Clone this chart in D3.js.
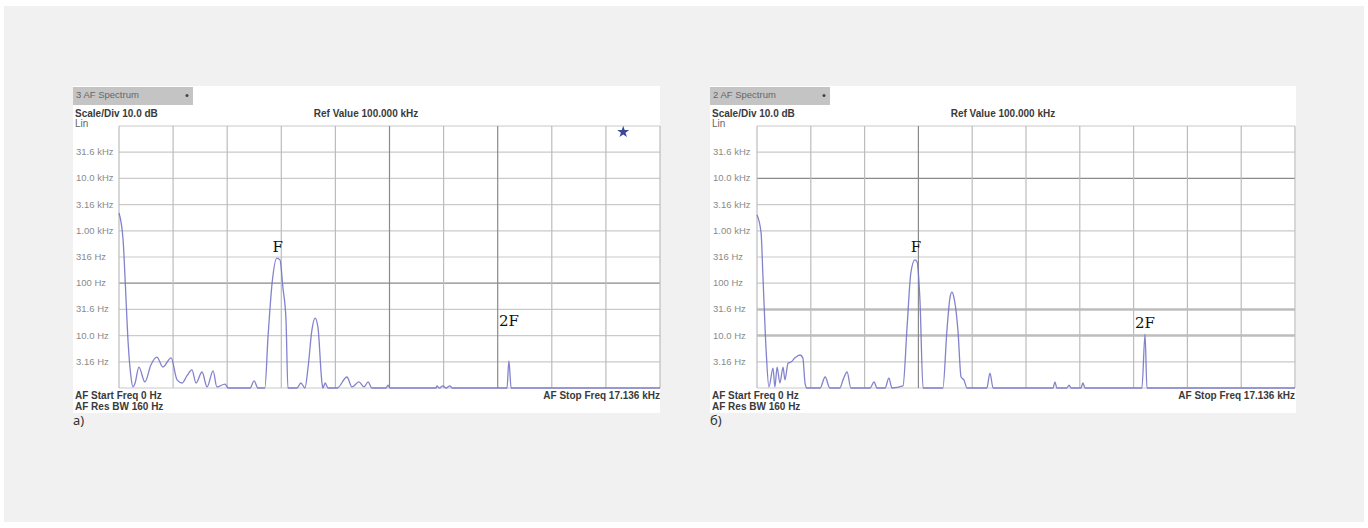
<!DOCTYPE html>
<html>
<head>
<meta charset="utf-8">
<script src="https://cdn.jsdelivr.net/npm/d3@7"></script>
<style>
  html, body { margin: 0; padding: 0; background: #fff; }
  svg { display: block; }
  .hdr { font-family: "Liberation Sans", Arial, sans-serif; font-size: 10px; font-weight: bold; fill: #3a3a3a; }
  .tick { font-family: "Liberation Sans", Arial, sans-serif; font-size: 9.5px; fill: #8a8a8a; }
  .mark { font-family: "DejaVu Serif", "Liberation Serif", serif; font-size: 15px; fill: #111; }
  .cap { font-family: "Noto Sans", "Open Sans", sans-serif; font-size: 13px; fill: #333; }
</style>
</head>
<body>
<div id="chart"></div>
<script>

// frequency span of both analyzers, kHz
const spanKHz = 17.136

// level axis, dB re 1 Hz, 10 dB / div
const levelDomain = [0, 100]
const tickLevels = [90, 80, 70, 60, 50, 40, 30, 20, 10]
const tickLabels = ["31.6 kHz", "10.0 kHz", "3.16 kHz", "1.00 kHz", "316 Hz", "100 Hz", "31.6 Hz", "10.0 Hz", "3.16 Hz"]

// trace a) [kHz, dB]
const traceA = [
  [0, 66.8], [0.13, 56.5], [0.19, 42.4], [0.29, 17.2], [0.38, 4.2], [0.44, 0.4],
  [0.51, 1.9], [0.63, 8.0], [0.82, 2.3], [1.01, 8.8], [1.20, 11.8], [1.39, 8.0],
  [1.65, 11.5], [1.84, 3.1], [2.00, 1.9], [2.15, 4.6], [2.31, 6.9], [2.44, 1.9],
  [2.63, 6.1], [2.79, 0.4], [2.98, 6.5], [3.10, 0.4], [3.36, 1.5], [3.45, 0],
  [4.15, 0], [4.28, 2.7], [4.40, 0], [4.62, 0], [4.72, 19.5], [4.85, 40.1],
  [5.00, 49.6], [5.10, 48.9], [5.19, 38.5], [5.29, 26.0], [5.35, 0], [5.64, 0],
  [5.76, 1.9], [5.89, 0], [5.99, 8.0], [6.11, 22.1], [6.21, 26.7], [6.30, 23.3],
  [6.43, 1.9], [6.46, 0], [6.53, 1.9], [6.62, 0], [6.91, 0], [7.22, 4.2],
  [7.38, 0.4], [7.60, 2.3], [7.76, 0.4], [7.89, 2.3], [8.01, 0], [8.46, 0],
  [8.52, 1.1], [8.58, 0], [10.04, 0], [10.07, 0.8], [10.14, 0], [10.26, 0.8],
  [10.36, 0], [10.48, 0.8], [10.55, 0], [12.29, 0], [12.35, 10.3], [12.42, 0],
  [17.136, 0]
]

// trace б) [kHz, dB]
const traceB = [
  [0, 66.0], [0.13, 59.2], [0.19, 42.4], [0.29, 14.5], [0.38, 0.4], [0.51, 7.6],
  [0.57, 0.4], [0.64, 8.0], [0.73, 1.9], [0.83, 8.0], [0.89, 3.1], [0.99, 9.5],
  [1.08, 9.9], [1.21, 11.5], [1.37, 12.6], [1.46, 11.5], [1.53, 1.9], [1.59, 0],
  [2.01, 0], [2.17, 4.2], [2.32, 0], [2.64, 0], [2.74, 3.1], [2.87, 6.1],
  [2.99, 0], [3.60, 0], [3.73, 2.3], [3.82, 0], [4.08, 0], [4.20, 3.8],
  [4.30, 0], [4.65, 0.8], [4.78, 23.3], [4.90, 43.9], [5.03, 48.9], [5.10, 48.1],
  [5.19, 33.6], [5.29, 0], [5.92, 0], [6.05, 22.1], [6.15, 34.7], [6.21, 36.6],
  [6.27, 34.7], [6.40, 22.1], [6.50, 4.2], [6.59, 3.1], [6.69, 0], [7.32, 0],
  [7.42, 5.7], [7.52, 0], [9.43, 0], [9.49, 2.3], [9.55, 0], [9.87, 0],
  [9.94, 1.1], [10.0, 0], [10.32, 0], [10.38, 1.9], [10.45, 0], [12.26, 0],
  [12.36, 20.6], [12.42, 0], [17.136, 0]
]

// labels on the peaks [text, kHz, dB]
const marksA = [["F", 5.03, 52], ["2F", 12.35, 23.5]]
const marksB = [["F", 5.06, 52], ["2F", 12.36, 23]]

const panels = [
  { x: 73, w: 587, plotX: 119, plotW: 541, tab: "3 AF Spectrum", cap: "а)", trace: traceA, marks: marksA,
    star: true, darkH: [40], darkV: [5, 7], softH: [] },
  { x: 710, w: 586, plotX: 757, plotW: 538, tab: "2 AF Spectrum", cap: "б)", trace: traceB, marks: marksB,
    star: false, darkH: [80], darkV: [3], softH: [30, 20] }
]

const width = 1368, height = 528
const panelTop = 86, plotTop = 126, plotH = 262

const svg = d3.select("#chart").append("svg")
    .attr("width", width)
    .attr("height", height)

svg.append("rect")
    .attr("x", 4).attr("y", 6)
    .attr("width", width - 8).attr("height", height - 12)
    .attr("fill", "#f1f1f1")

panels.forEach(function(p) {

    var g = svg.append("g")

    var x = d3.scaleLinear().domain([0, spanKHz]).range([p.plotX, p.plotX + p.plotW])
    var y = d3.scaleLinear().domain(levelDomain).range([plotTop + plotH, plotTop])

    g.append("rect")
        .attr("x", p.x).attr("y", panelTop)
        .attr("width", p.w).attr("height", 413 - panelTop)
        .attr("fill", "#fff")

    // tab
    g.append("rect")
        .attr("x", p.x).attr("y", panelTop + 1)
        .attr("width", 120).attr("height", 18)
        .attr("fill", "#c4c4c4")
    g.append("text").attr("class", "tick")
        .attr("x", p.x + 3).attr("y", panelTop + 12)
        .style("fill", "#666")
        .text(p.tab)
    g.append("circle")
        .attr("cx", p.x + 114).attr("cy", panelTop + 9.5).attr("r", 1.5)
        .attr("fill", "#444")

    g.append("text").attr("class", "hdr")
        .attr("x", p.x + 2).attr("y", 117)
        .text("Scale/Div 10.0 dB")
    g.append("text").attr("class", "hdr")
        .attr("x", p.plotX + p.plotW * 0.36).attr("y", 117)
        .text("Ref Value 100.000 kHz")
    g.append("text").attr("class", "tick")
        .attr("x", p.x + 2).attr("y", 127)
        .style("fill", "#666").style("font-size", "10px")
        .text("Lin")

    // grid
    var hLevels = d3.range(0, 101, 10)
    g.selectAll(".gh").data(hLevels).enter().append("line")
        .attr("x1", p.plotX).attr("x2", p.plotX + p.plotW)
        .attr("y1", d => y(d)).attr("y2", d => y(d))
        .attr("stroke", d => p.darkH.includes(d) ? "#8a8a8a" : (p.softH.includes(d) ? "#bdbdbd" : "#cacaca"))
        .attr("stroke-width", d => p.softH.includes(d) ? 2.5 : 1.2)

    var vDivs = d3.range(0, 11)
    g.selectAll(".gv").data(vDivs).enter().append("line")
        .attr("x1", d => x(d * spanKHz / 10)).attr("x2", d => x(d * spanKHz / 10))
        .attr("y1", plotTop).attr("y2", plotTop + plotH)
        .attr("stroke", d => p.darkV.includes(d) ? "#8a8a8a" : "#bcbcbc")
        .attr("stroke-width", 1.2)

    g.selectAll(".tl").data(tickLevels).enter().append("text")
        .attr("class", "tick")
        .attr("x", p.x + 3)
        .attr("y", d => y(d) + 3)
        .text((d, i) => tickLabels[i])

    // trace
    g.append("path")
        .datum(p.trace)
        .attr("fill", "none")
        .attr("stroke", "#7474c8")
        .attr("stroke-width", 1.3)
        .attr("stroke-opacity", 0.9)
        .attr("stroke-linejoin", "round")
        .attr("d", d3.line().curve(d3.curveMonotoneX).x(d => x(d[0])).y(d => y(d[1])))

    g.selectAll(".mk").data(p.marks).enter().append("text")
        .attr("class", "mark")
        .attr("text-anchor", "middle")
        .attr("x", d => x(d[1]))
        .attr("y", d => y(d[2]))
        .text(d => d[0])

    if (p.star) {
        g.append("path")
            .attr("d", d3.symbol().type(d3.symbolStar).size(45)())
            .attr("transform", "translate(" + (p.plotX + p.plotW * 0.932) + "," + (plotTop + 6) + ")")
            .attr("fill", "#38489a")
    }

    // footer
    g.append("text").attr("class", "hdr")
        .attr("x", p.x + 2).attr("y", 399)
        .text("AF Start Freq 0 Hz")
    g.append("text").attr("class", "hdr")
        .attr("x", p.x + 2).attr("y", 410)
        .text("AF Res BW 160 Hz")
    g.append("text").attr("class", "hdr")
        .attr("x", p.plotX + p.plotW).attr("y", 399)
        .attr("text-anchor", "end")
        .text("AF Stop Freq 17.136 kHz")

    svg.append("text").attr("class", "cap")
        .attr("x", p.x).attr("y", 425)
        .text(p.cap)
})

</script>
</body>
</html>
